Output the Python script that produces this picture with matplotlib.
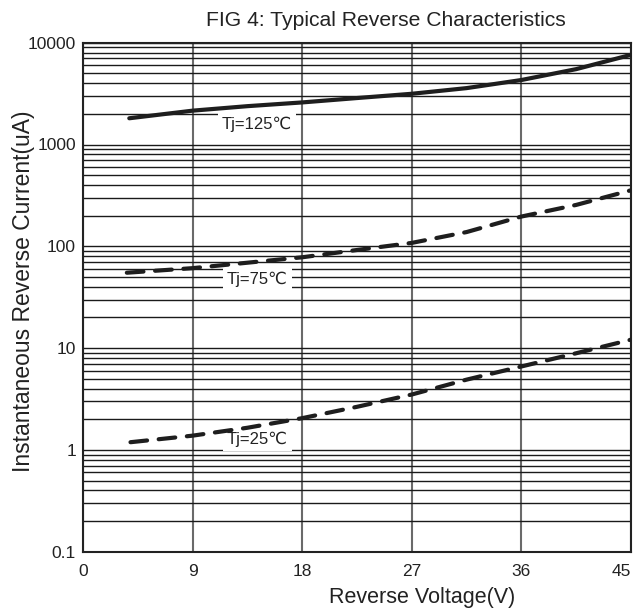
import matplotlib
matplotlib.use('Agg')
import matplotlib.pyplot as plt
from matplotlib.ticker import FixedLocator, FixedFormatter, LogLocator, NullFormatter

plt.rcParams['font.family'] = ['Liberation Sans', 'DejaVu Sans']

# Reverse voltage (V) and reverse current (uA)
v_125 = [3.8, 9, 13.5, 18, 22.5, 27, 31.5, 36, 40.5, 45]
i_125 = [1810, 2150, 2380, 2590, 2860, 3150, 3580, 4300, 5500, 7600]

v_75 = [3.6, 9, 13.5, 18, 22.5, 27, 31.5, 36, 40.5, 45]
i_75 = [55, 61, 69, 78, 92, 108, 138, 196, 255, 355]

v_25 = [3.9, 9, 13.5, 18, 22.5, 27, 31.5, 36, 40.5, 45]
i_25 = [1.19, 1.38, 1.65, 2.05, 2.65, 3.5, 4.9, 6.6, 8.9, 12.1]

labels = ['Tj=125\u2103', 'Tj=75\u2103', 'Tj=25\u2103']
label_pos = [(14.3, 1590), (14.3, 47), (14.3, 1.28)]

x_ticks = [0, 9, 18, 27, 36, 45]
y_ticks = [0.1, 1, 10, 100, 1000, 10000]
y_ticklabels = ['0.1', '1', '10', '100', '1000', '10000']

fig = plt.figure(figsize=(6.41, 6.11), dpi=100)
ax = fig.add_axes([83 / 641, 1 - 551.7 / 611, 548 / 641, 509 / 611])

ink = '#1e1e1e'
ax.plot(v_125, i_125, color=ink, lw=3, solid_capstyle='round', zorder=4)
l75, = ax.plot(v_75, i_75, color=ink, lw=3, zorder=4)
l25, = ax.plot(v_25, i_25, color=ink, lw=3, zorder=4)
for ln in (l75, l25):
    ln.set_dashes((4.0, 2.8))
    ln.set_dash_capstyle('round')

ax.set_yscale('log')
ax.set_xlim(0, 45)
ax.set_ylim(0.1, 10000)

ax.xaxis.set_major_locator(FixedLocator(x_ticks))
ax.yaxis.set_major_locator(FixedLocator(y_ticks))
ax.yaxis.set_major_formatter(FixedFormatter(y_ticklabels))
ax.yaxis.set_minor_locator(LogLocator(base=10, subs=range(2, 10)))
ax.yaxis.set_minor_formatter(NullFormatter())

ax.grid(True, axis='y', which='both', color='#1a1a1a', lw=1.0, zorder=1)
ax.grid(True, axis='x', which='major', color='#6a6a6a', lw=1.5, zorder=1)
ax.tick_params(which='both', length=0, labelsize=12.5, colors='#222222')
ax.tick_params(axis='y', pad=5)
ax.tick_params(axis='x', pad=9)
for lbl in ax.get_xticklabels():
    if lbl.get_text() == '45':
        lbl.set_horizontalalignment('right')
        lbl.set_x(45)

for s in ax.spines.values():
    s.set_color('#222222')
    s.set_linewidth(1.5)

for txt, (x, y) in zip(labels, label_pos):
    ax.text(x, y, txt, ha='center', va='center', fontsize=12, color='#222222',
            zorder=3, bbox=dict(boxstyle='square,pad=0.25', fc='white', ec='none'))

fig.text(386 / 641, 1 - 20 / 611, 'FIG 4: Typical Reverse Characteristics',
         ha='center', va='center', fontsize=15.2, color='#222222')
fig.text(422 / 641, 1 - 597 / 611, 'Reverse Voltage(V)', ha='center', va='center',
         fontsize=15.5, color='#222222')
fig.text(23.5 / 641, 1 - 291 / 611, 'Instantaneous Reverse Current(uA)', ha='center',
         va='center', rotation=90, fontsize=16.5, color='#222222')

fig.savefig('out.png', dpi=100)
